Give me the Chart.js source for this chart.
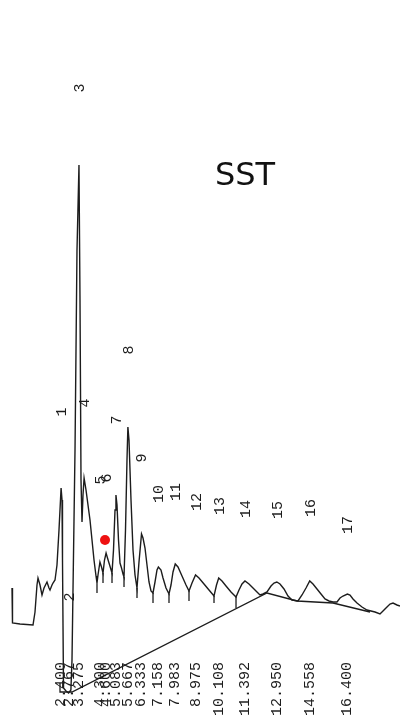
<!DOCTYPE html>
<html>
<head>
<meta charset="utf-8">
<title>SST chromatogram</title>
<script src="https://cdn.jsdelivr.net/npm/chart.js@4.4.1/dist/chart.umd.min.js"></script>
<style>
  html, body { margin: 0; padding: 0; background: #ffffff; }
  #chrom { display: block; }
</style>
</head>
<body>
<canvas id="chrom" width="400" height="722"></canvas>
<script>
// Detector trace: retention time (min) and signal (arbitrary units)
const traceTime = [
  0.000, 0.024, 0.391, 1.027, 1.125, 1.222, 1.271, 1.369, 1.467, 1.565,
  1.711, 1.809, 1.858, 1.956, 2.005, 2.103, 2.200, 2.298, 2.400, 2.445,
  2.469, 2.518, 2.642, 2.767, 2.880, 2.934, 3.081, 3.178, 3.275, 3.325,
  3.374, 3.423, 3.472, 3.525, 3.619, 3.716, 3.814, 3.912, 4.010, 4.108,
  4.156, 4.205, 4.300, 4.377, 4.450, 4.523, 4.600, 4.670, 4.743, 4.817,
  4.890, 4.963, 5.037, 5.083, 5.134, 5.208, 5.281, 5.355, 5.428, 5.477,
  5.550, 5.623, 5.667, 5.721, 5.819, 5.917, 6.015, 6.112, 6.210, 6.333,
  6.406, 6.504, 6.601, 6.699, 6.797, 6.895, 6.993, 7.090, 7.158, 7.286,
  7.384, 7.531, 7.677, 7.775, 7.873, 7.983, 8.117, 8.313, 8.509, 8.655,
  8.802, 8.975, 9.144, 9.389, 9.633, 9.878, 10.000, 10.108, 10.269, 10.465,
  10.709, 10.954, 11.100, 11.247, 11.392, 11.589, 11.785, 11.980, 12.127, 12.274,
  12.469, 12.665, 12.812, 12.950, 13.105, 13.301, 13.496, 13.692, 13.985, 14.181,
  14.377, 14.558, 14.719, 14.914, 15.110, 15.306, 15.501, 15.697, 15.892, 16.039,
  16.186, 16.400, 16.528, 16.675, 16.870, 17.115, 17.359, 17.555, 17.751, 17.995,
  18.142, 18.337, 18.484, 18.631, 18.826, 18.973
];
const traceSignal = [
  34, -1, -2, -3, 10, 37, 44, 37, 27, 34,
  40, 34, 32, 37, 39, 42, 57, 92, 134, 122,
  62, -66, -69, -71, -68, -38, 172, 372, 457, 322,
  142, 100, 127, 144, 132, 117, 102, 82, 62, 46,
  39, 47, 60, 55, 49, 62, 69, 64, 59, 54,
  49, 72, 112, 127, 117, 82, 59, 54, 48, 45,
  92, 162, 195, 182, 122, 72, 47, 34, 60, 88,
  84, 74, 57, 40, 31, 29, 40, 52, 55, 52,
  44, 34, 28, 37, 50, 58, 55, 46, 37, 31,
  39, 47, 44, 38, 32, 26, 37, 44, 41, 36,
  30, 25, 32, 38, 41, 38, 34, 30, 27, 28,
  30, 36, 39, 40, 38, 33, 26, 22, 21, 27,
  34, 41, 38, 33, 28, 23, 21, 20, 20, 24,
  26, 28, 27, 23, 19, 15, 12, 11, 10, 8,
  11, 15, 18, 19, 17, 16
];

// Integrated peaks: number, retention time, height of the number tag
const peakNumber = [1, 2, 3, 4, 5, 6, 7, 8, 9, 10, 11, 12, 13, 14, 15, 16, 17];
const peakTime = [2.400, 2.767, 3.275, 3.525, 4.300, 4.600, 5.083, 5.667, 6.333,
                  7.158, 7.983, 8.975, 10.108, 11.392, 12.950, 14.558, 16.400];
const peakTagLevel = [210, 25, 534, 219, 142, 144, 202, 272, 164,
                      128, 130, 120, 116, 113, 112, 114, 97];
// Peaks whose retention time is printed along the bottom
const timedPeaks = [1, 2, 3, 5, 6, 7, 8, 9, 10, 11, 12, 13, 14, 15, 16, 17];
const timeLabelLevel = -40;

// Integration baseline
const baseTime = [2.347, 2.347, 2.934, 12.469, 13.936, 15.697, 17.506];
const baseSignal = [-61, -70, -70, 29, 21, 19, 10];

// Valley drop lines: time, upper and lower end
const dropTime = [4.156, 4.450, 4.890, 5.477, 6.112, 6.895, 7.677, 8.655, 9.878, 10.954];
const dropTop = [39, 49, 49, 45, 34, 29, 28, 31, 26, 25];
const dropBottom = [29, 39, 39, 35, 24, 19, 19, 21, 19, 14];

// Marked point
const markTime = [4.548];
const markSignal = [82];

const title = 'SST';
const ink = '#1c1c1c';

const tracePts = traceTime.map((t, i) => ({ x: t, y: traceSignal[i] }));
const basePts = baseTime.map((t, i) => ({ x: t, y: baseSignal[i] }));
const dropPts = [];
dropTime.forEach((t, i) => {
  dropPts.push({ x: t, y: dropTop[i] }, { x: t, y: dropBottom[i] }, { x: t, y: null });
});
const markPts = markTime.map((t, i) => ({ x: t, y: markSignal[i] }));

const annotate = {
  id: 'annotate',
  afterDatasetsDraw(chart) {
    const { ctx, scales: { x, y }, chartArea } = chart;
    ctx.save();
    ctx.fillStyle = ink;
    ctx.font = '15px "Liberation Mono", "DejaVu Sans Mono", monospace';
    // peak numbers, rotated
    peakNumber.forEach((n, i) => {
      const px = x.getPixelForValue(peakTime[i]) + 1;
      const py = y.getPixelForValue(peakTagLevel[i]);
      ctx.save();
      ctx.translate(px, py);
      ctx.rotate(-Math.PI / 2);
      ctx.textAlign = 'center';
      ctx.textBaseline = 'middle';
      ctx.fillText(String(n), 0, 0);
      ctx.restore();
    });
    // retention times, rotated, hanging below the trace
    timedPeaks.forEach(n => {
      const i = peakNumber.indexOf(n);
      const px = x.getPixelForValue(peakTime[i]);
      const py = y.getPixelForValue(timeLabelLevel);
      ctx.save();
      ctx.translate(px, py);
      ctx.rotate(-Math.PI / 2);
      ctx.textAlign = 'right';
      ctx.textBaseline = 'middle';
      ctx.fillText(peakTime[i].toFixed(3), 0, 0);
      ctx.restore();
    });
    // title
    ctx.fillStyle = '#111';
    ctx.font = '32px "DejaVu Sans", sans-serif';
    ctx.textAlign = 'center';
    ctx.textBaseline = 'middle';
    ctx.fillText(title, chartArea.left + 245, chartArea.top + 177);
    ctx.restore();
  }
};

new Chart(document.getElementById('chrom'), {
  type: 'line',
  data: {
    datasets: [
      { data: tracePts, borderColor: ink, borderWidth: 1.4, pointRadius: 0, tension: 0 },
      { data: basePts, borderColor: ink, borderWidth: 1.3, pointRadius: 0, tension: 0 },
      { data: dropPts, borderColor: ink, borderWidth: 1.3, pointRadius: 0, tension: 0, spanGaps: false },
      { type: 'scatter', data: markPts, pointRadius: 5, pointBackgroundColor: '#ee1111',
        pointBorderWidth: 0, borderColor: '#ee1111' }
    ]
  },
  options: {
    responsive: false,
    animation: false,
    devicePixelRatio: 1,
    layout: { padding: 0, autoPadding: false },
    plugins: { legend: { display: false }, tooltip: { enabled: false }, title: { display: false } },
    scales: {
      x: { type: 'linear', min: -0.587, max: 18.973, display: false },
      y: { type: 'linear', min: -100, max: 622, display: false }
    }
  },
  plugins: [annotate]
});
</script>
</body>
</html>
